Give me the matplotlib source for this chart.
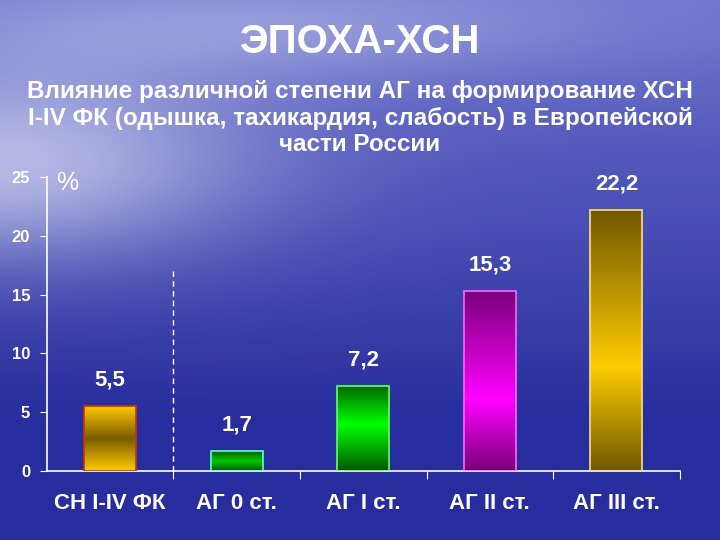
import numpy as np
import matplotlib
matplotlib.use("Agg")
import matplotlib.pyplot as plt
from matplotlib.colors import LinearSegmentedColormap

# ----------------------------------
# DATA
# ----------------------------------

categories = ["СН I-IV ФК", "АГ 0 ст.", "АГ I ст.", "АГ II ст.", "АГ III ст."]
values = [5.5, 1.7, 7.2, 15.3, 22.2]
value_labels = ["5,5", "1,7", "7,2", "15,3", "22,2"]
yticks = [0, 5, 10, 15, 20, 25]
divider_height = 17.3

title = "ЭПОХА-ХСН"
subtitle = ("Влияние различной степени АГ на формирование ХСН\n"
            "I-IV ФК (одышка, тахикардия, слабость) в Европейской\n"
            "части России")

# gradient stops per bar: (top, middle, bottom), middle position
bar_grads = [
    (["#ffc800", "#7a5c00", "#ffcc00"], 0.5, "#cc3300"),
    (["#005f00", "#00c800", "#005a00"], 0.5, "#66ffcc"),
    (["#006a00", "#00ff00", "#005800"], 0.45, "#66ff66"),
    (["#7a007a", "#ff00ff", "#780078"], 0.6, "#ff66ff"),
    (["#705800", "#ffcc00", "#705800"], 0.6, "#ffdd88"),
]

plt.rcParams["font.family"] = ["Liberation Sans", "DejaVu Sans"]

fig = plt.figure(figsize=(7.2, 5.4), dpi=100)

# ----------------------------------
# BACKGROUND
# ----------------------------------

bg = fig.add_axes([0, 0, 1, 1])
h, w = 270, 360
yy, xx = np.mgrid[0:h, 0:w]
yy = yy / h
xx = xx / w
top = np.array([0.42, 0.45, 0.80])
bottom = np.array([0.16, 0.18, 0.62])
t = np.clip(yy * 1.3, 0, 1)[..., None]
img = top * (1 - t) + bottom * t
glow = np.exp(-(((xx - 0.0) / 0.35) ** 2 + ((yy - 0.30) / 0.18) ** 2))
glow2 = 0.5 * np.exp(-(((xx - 0.35) / 0.5) ** 2 + ((yy - 0.05) / 0.1) ** 2))
g = np.clip(glow + glow2, 0, 1)[..., None]
img = img * (1 - 0.7 * g) + np.array([0.88, 0.89, 0.97]) * 0.7 * g
bg.imshow(img, aspect="auto", extent=[0, 1, 0, 1], origin="upper")
bg.axis("off")

# ----------------------------------
# CHART
# ----------------------------------

ax = fig.add_axes([0.065, 0.128, 0.879, 0.544])
ax.patch.set_alpha(0)
x = np.arange(len(categories))
bars = ax.bar(x, values, width=0.41, color="none", zorder=2)

for bar, (cols, mid, edge) in zip(bars, bar_grads):
    cmap = LinearSegmentedColormap.from_list(
        "g", [(0, cols[2]), (1 - mid, cols[1]), (1, cols[0])])
    x0, y0 = bar.get_x(), bar.get_y()
    bw, bh = bar.get_width(), bar.get_height()
    grad = np.linspace(0, 1, 256).reshape(-1, 1)
    ax.imshow(grad, cmap=cmap, aspect="auto", origin="lower",
              extent=[x0, x0 + bw, y0, y0 + bh], zorder=2)
    bar.set_edgecolor(edge)
    bar.set_linewidth(1.2)
    bar.set_zorder(3)

for bar, lab in zip(bars, value_labels):
    ax.annotate(lab, (bar.get_x() + bar.get_width() / 2, bar.get_height()),
                xytext=(0, 19), textcoords="offset points",
                ha="center", va="center", color="white",
                fontsize=16, fontweight="bold")

ax.plot([x[0] + 0.5, x[0] + 0.5], [0, divider_height],
        color="white", linestyle=(0, (4, 3)), linewidth=1, zorder=1)

ax.set_xlim(-0.5, len(categories) - 0.5)
ax.set_ylim(0, 25)
ax.set_yticks(yticks)
ax.set_xticks(x + 0.5)
ax.set_xticklabels([])
ax.tick_params(axis="x", length=6, color="white", direction="out")
ax.tick_params(axis="y", length=5, color="white", labelcolor="white",
               labelsize=12, pad=7)
for lbl in ax.get_yticklabels():
    lbl.set_fontweight("bold")
for xi, cat in zip(x, categories):
    ax.text(xi, -2.75, cat, ha="center", va="center", color="white",
            fontsize=16, fontweight="bold")

for s in ["top", "right"]:
    ax.spines[s].set_visible(False)
for s in ["left", "bottom"]:
    ax.spines[s].set_color("white")
    ax.spines[s].set_linewidth(1.2)

ax.text(0.015, 0.98, "%", transform=ax.transAxes, color="white",
        fontsize=18, va="center", ha="left", fontweight="light")

# ----------------------------------
# TITLES
# ----------------------------------

fig.text(0.5, 0.922, title, ha="center", va="center", color="white",
         fontsize=29, fontweight="bold")
fig.text(0.5, 0.781, subtitle, ha="center", va="center", color="white",
         fontsize=17.5, fontweight="bold", linespacing=1.2)

fig.savefig("out.png", dpi=100)
